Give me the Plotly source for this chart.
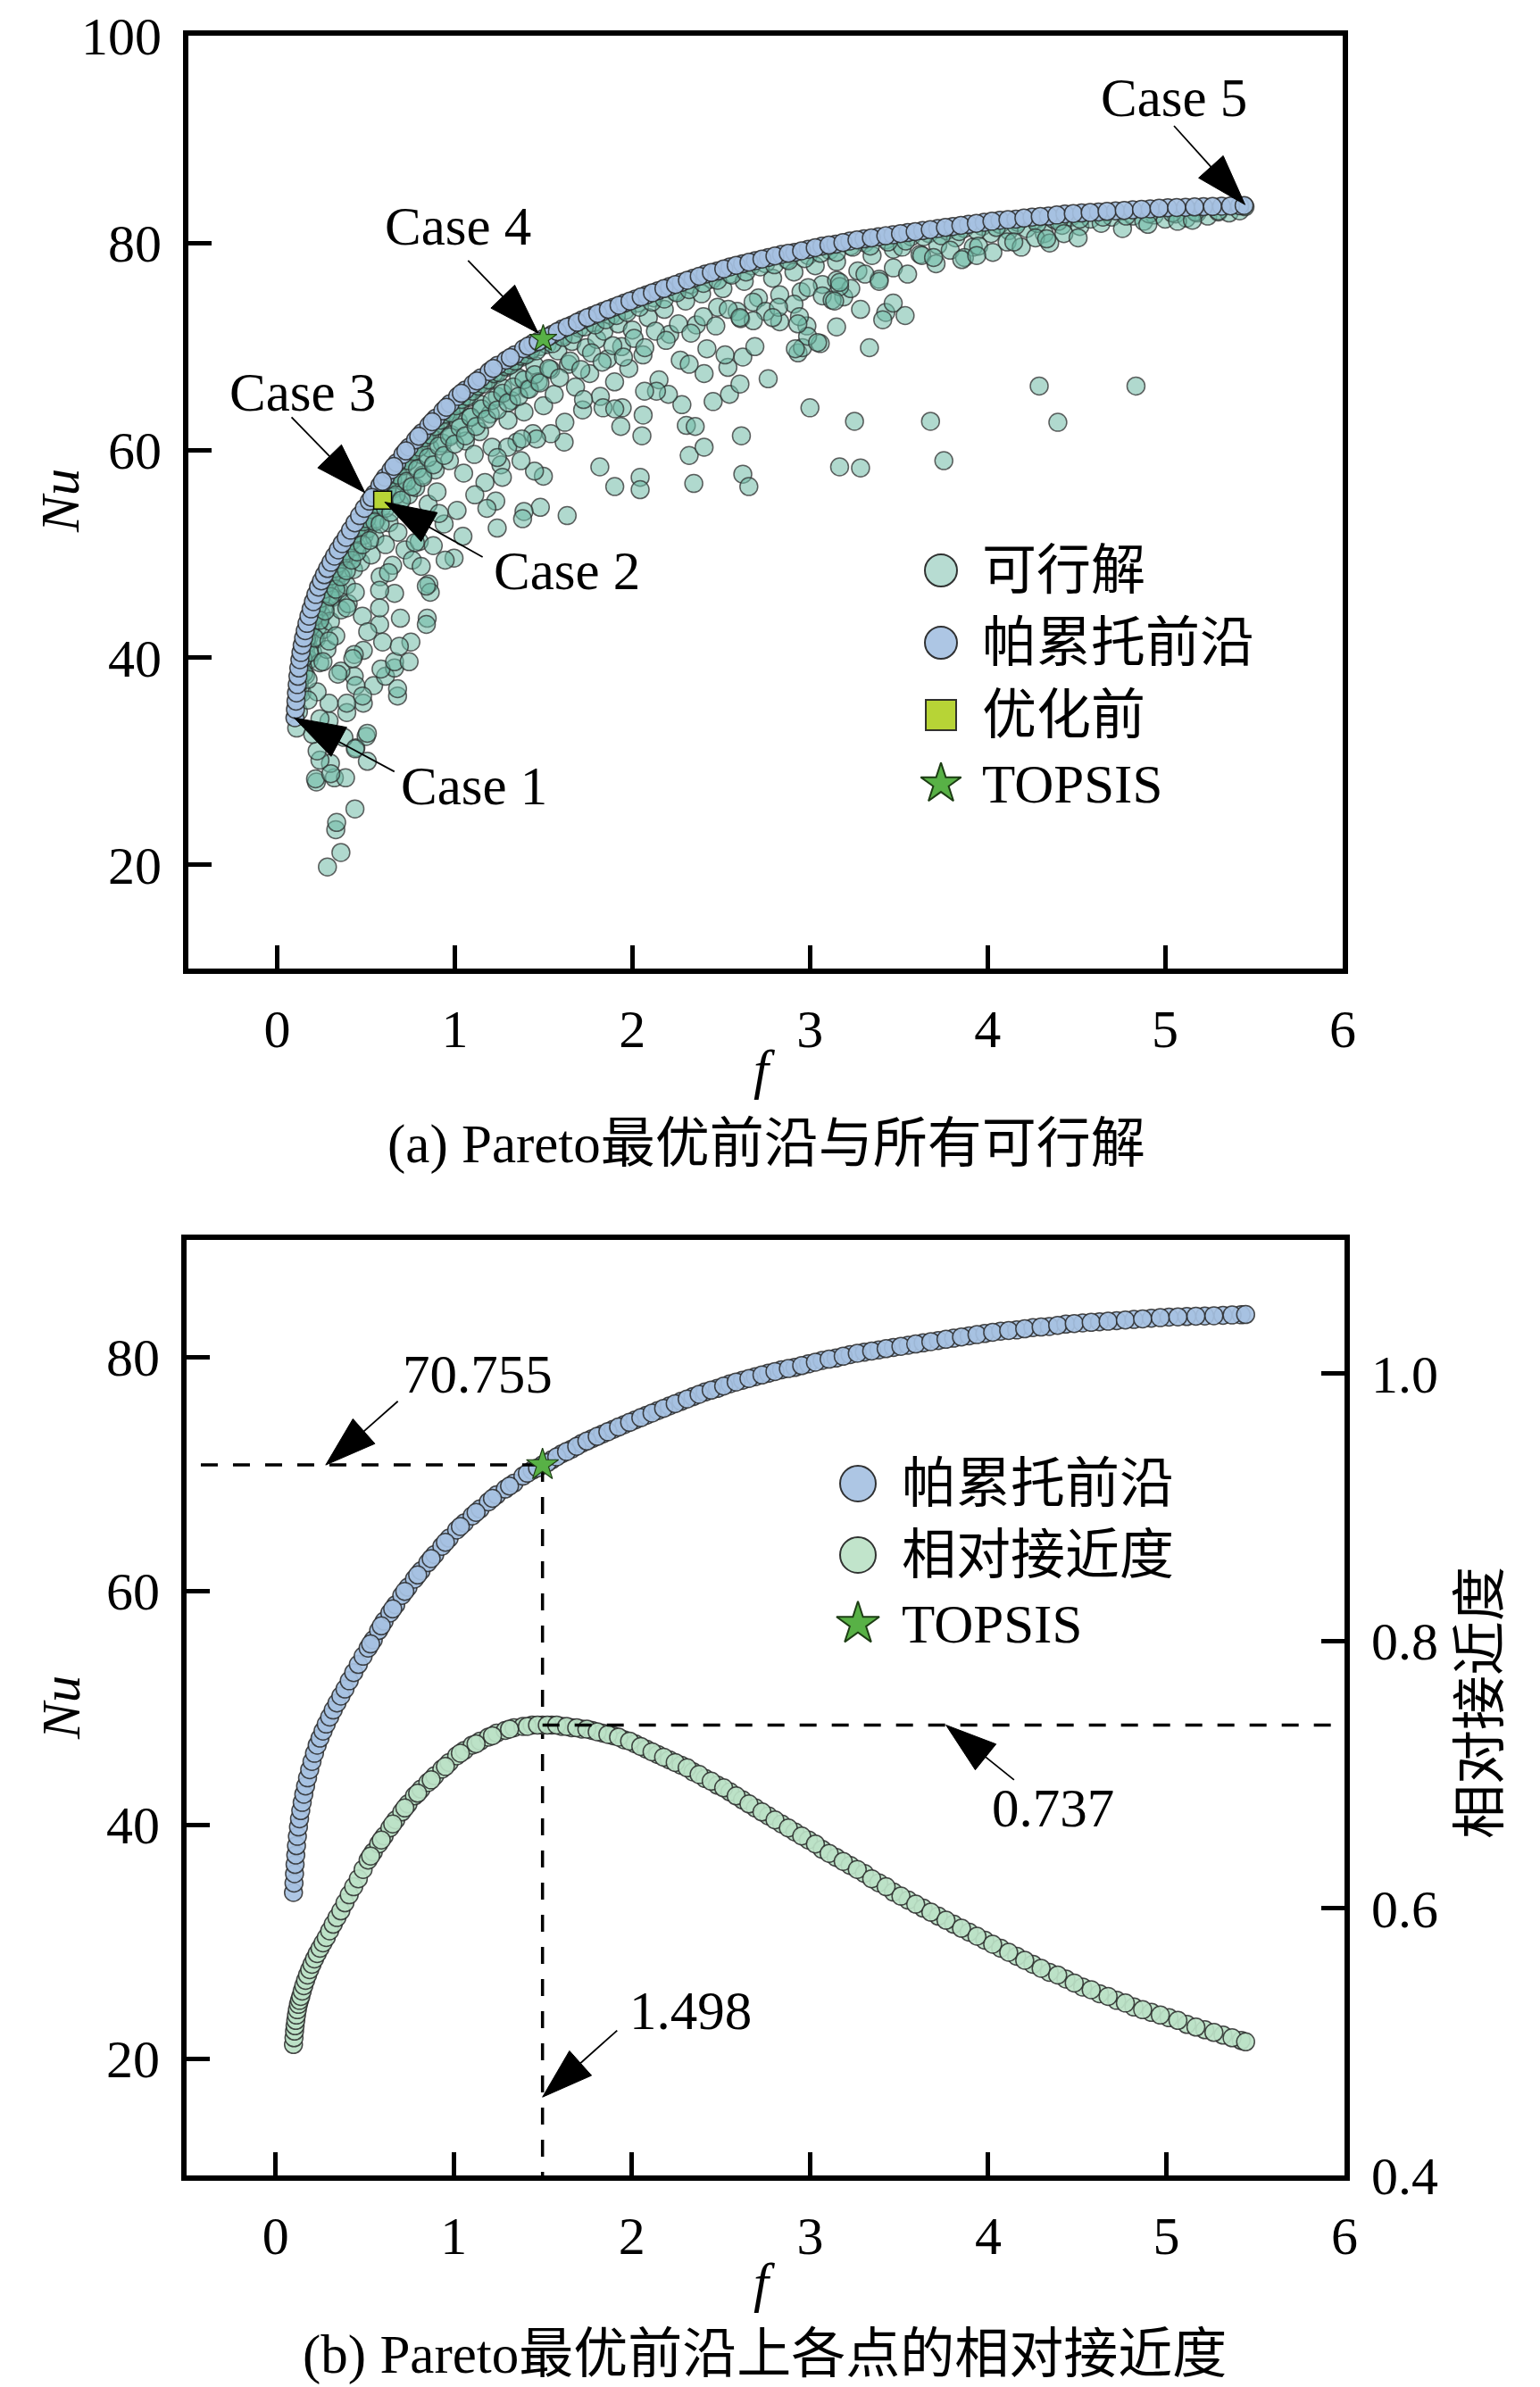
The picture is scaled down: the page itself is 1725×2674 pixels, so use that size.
import plotly.graph_objects as go

W, H = 1725, 2674
FONT = "Liberation Serif, Noto Sans CJK SC"

# ---------------- data ----------------
# Pareto front: f, Nu, and the relative closeness of each front point
front_f = [0.100, 0.103, 0.106, 0.109, 0.113, 0.117, 0.122, 0.128, 0.134, 0.141,
           0.149, 0.158, 0.168, 0.179, 0.191, 0.204, 0.218, 0.233, 0.249, 0.266,
           0.284, 0.303, 0.323, 0.344, 0.366, 0.389, 0.413, 0.438, 0.464, 0.491,
           0.519, 0.548, 0.578, 0.609, 0.641, 0.674, 0.708, 0.743, 0.779, 0.816,
           0.854, 0.893, 0.933, 0.974, 1.016, 1.059, 1.103, 1.148, 1.194, 1.241,
           1.289, 1.338, 1.388, 1.440, 1.498, 1.550, 1.605, 1.661, 1.718, 1.776,
           1.835, 1.895, 1.956, 2.018, 2.081, 2.145, 2.210, 2.276, 2.343, 2.411,
           2.480, 2.550, 2.621, 2.693, 2.766, 2.840, 2.915, 2.991, 3.068, 3.146,
           3.225, 3.305, 3.386, 3.468, 3.551, 3.635, 3.720, 3.806, 3.893, 3.981,
           4.070, 4.160, 4.251, 4.343, 4.436, 4.530, 4.625, 4.721, 4.818, 4.916,
           5.015, 5.115, 5.216, 5.318, 5.420,
           0.533, 0.593, 0.657, 0.725, 0.797, 0.873, 0.953, 1.037, 1.125, 1.217,
           1.313, 1.413, 1.470, 1.525, 1.578, 1.633, 1.690, 1.747, 1.805, 1.865,
           1.925, 1.987, 2.050, 2.113, 2.178, 2.243, 2.310, 2.377, 2.445, 2.515,
           2.585, 2.657, 2.730, 2.803, 2.878, 2.953, 3.030, 3.107, 3.186, 3.265,
           3.346, 3.427, 3.510, 3.593, 3.678, 3.763, 3.850, 3.937, 4.025, 4.115,
           4.205, 4.297, 4.390, 4.483, 4.578, 4.673, 4.770, 4.867, 4.966, 5.065,
           5.166, 5.267, 5.369, 5.445]
front_nu = [34.2, 35.0, 35.8, 36.6, 37.4, 38.2, 39.0, 39.8, 40.5, 41.2,
            41.9, 42.6, 43.3, 44.0, 44.7, 45.4, 46.1, 46.8, 47.4, 48.0,
            48.6, 49.2, 49.8, 50.4, 51.0, 51.6, 52.3, 53.0, 53.7, 54.4,
            55.1, 55.8, 56.6, 57.4, 58.1, 58.8, 59.6, 60.3, 61.0, 61.7,
            62.4, 63.1, 63.8, 64.5, 65.2, 65.8, 66.4, 67.0, 67.6, 68.2,
            68.7, 69.2, 69.8, 70.3, 70.755, 71.2, 71.7, 72.1, 72.6, 73.0,
            73.4, 73.8, 74.2, 74.6, 75.0, 75.4, 75.8, 76.2, 76.6, 77.0,
            77.3, 77.7, 78.0, 78.3, 78.6, 78.9, 79.1, 79.4, 79.7, 79.9,
            80.2, 80.4, 80.6, 80.8, 81.0, 81.2, 81.4, 81.6, 81.8, 82.0,
            82.2, 82.3, 82.5, 82.6, 82.8, 82.9, 83.0, 83.1, 83.2, 83.3,
            83.4, 83.45, 83.5, 83.55, 83.6,
            55.45, 57.0, 58.45, 59.95, 61.35, 62.75, 64.15, 65.5, 66.7, 67.9,
            68.95, 70.05, 70.5, 70.95, 71.45, 71.9, 72.35, 72.8, 73.2, 73.6,
            74.0, 74.4, 74.8, 75.2, 75.6, 76.0, 76.4, 76.8, 77.15, 77.5,
            77.85, 78.15, 78.45, 78.75, 79.0, 79.25, 79.55, 79.8, 80.05, 80.3,
            80.5, 80.7, 80.9, 81.1, 81.3, 81.5, 81.7, 81.9, 82.1, 82.25,
            82.4, 82.55, 82.7, 82.85, 82.95, 83.05, 83.15, 83.25, 83.35, 83.42,
            83.48, 83.52, 83.58, 83.62]
front_c = [0.498, 0.503, 0.508, 0.512, 0.516, 0.520, 0.524, 0.528, 0.531, 0.534,
           0.538, 0.542, 0.546, 0.550, 0.554, 0.558, 0.562, 0.566, 0.570, 0.574,
           0.578, 0.583, 0.588, 0.593, 0.598, 0.604, 0.610, 0.616, 0.622, 0.629,
           0.636, 0.642, 0.648, 0.654, 0.660, 0.666, 0.672, 0.678, 0.684, 0.689,
           0.694, 0.699, 0.704, 0.709, 0.714, 0.718, 0.722, 0.725, 0.728, 0.731,
           0.733, 0.735, 0.736, 0.737, 0.737, 0.737, 0.736, 0.735, 0.734, 0.733,
           0.731, 0.729, 0.726, 0.723, 0.719, 0.715, 0.711, 0.707, 0.702, 0.697,
           0.692, 0.687, 0.681, 0.675, 0.669, 0.663, 0.657, 0.651, 0.644, 0.638,
           0.632, 0.626, 0.619, 0.612, 0.606, 0.600, 0.594, 0.588, 0.582, 0.576,
           0.570, 0.564, 0.558, 0.552, 0.547, 0.541, 0.536, 0.531, 0.526, 0.522,
           0.518, 0.513, 0.509, 0.505, 0.501,
           0.639, 0.651, 0.663, 0.675, 0.686, 0.696, 0.706, 0.716, 0.723, 0.729,
           0.734, 0.736, 0.737, 0.737, 0.737, 0.736, 0.735, 0.734, 0.732, 0.730,
           0.728, 0.725, 0.721, 0.717, 0.713, 0.709, 0.705, 0.700, 0.695, 0.690,
           0.684, 0.678, 0.672, 0.666, 0.660, 0.654, 0.648, 0.641, 0.635, 0.629,
           0.622, 0.616, 0.609, 0.603, 0.597, 0.591, 0.585, 0.579, 0.573, 0.567,
           0.561, 0.555, 0.550, 0.544, 0.539, 0.534, 0.529, 0.524, 0.520, 0.516,
           0.511, 0.507, 0.503, 0.500]

# feasible solutions: dense band under the front
band_f = [0.11, 0.12, 0.12, 0.13, 0.14, 0.14, 0.15, 0.16, 0.16, 0.17, 0.18, 0.18, 0.19, 0.20, 0.20,
          0.21, 0.22, 0.22, 0.23, 0.24, 0.24, 0.25, 0.26, 0.26, 0.27, 0.28, 0.28, 0.29, 0.30, 0.30,
          0.31, 0.32, 0.33, 0.33, 0.34, 0.35, 0.36, 0.36, 0.37, 0.38, 0.39, 0.40, 0.40, 0.41, 0.42,
          0.43, 0.44, 0.44, 0.45, 0.46, 0.47, 0.48, 0.48, 0.49, 0.50,
          0.51, 0.52, 0.53, 0.54, 0.55, 0.56, 0.57, 0.58, 0.59, 0.60, 0.61, 0.62, 0.63, 0.64, 0.65,
          0.66, 0.67, 0.68, 0.69, 0.70, 0.71, 0.72, 0.73, 0.74, 0.75, 0.76, 0.77, 0.78, 0.79, 0.80,
          0.81, 0.82, 0.84, 0.85, 0.86, 0.88, 0.89, 0.90, 0.92, 0.93, 0.94, 0.96, 0.97, 0.98, 1.00,
          1.02, 1.03, 1.05, 1.06, 1.08, 1.09, 1.11, 1.12, 1.14, 1.15, 1.17, 1.18, 1.20, 1.21, 1.23,
          1.24, 1.26, 1.27, 1.29, 1.30, 1.32, 1.33, 1.35, 1.36, 1.38, 1.39, 1.41, 1.42, 1.44, 1.45,
          1.47, 1.48, 1.50,
          1.52, 1.54, 1.56, 1.58, 1.60, 1.62, 1.64, 1.66, 1.68, 1.70, 1.72, 1.74, 1.76, 1.78, 1.80,
          1.82, 1.84, 1.86, 1.88, 1.90, 1.92, 1.94, 1.96, 1.98, 2.00, 2.03, 2.06, 2.09, 2.12, 2.15,
          2.18, 2.21, 2.24, 2.27, 2.30, 2.33, 2.36, 2.39, 2.42, 2.45, 2.48,
          2.51, 2.55, 2.59, 2.63, 2.67, 2.71, 2.75, 2.79, 2.83, 2.87, 2.91, 2.95, 2.99, 3.03, 3.07,
          3.11, 3.15, 3.19, 3.23, 3.27, 3.31, 3.35, 3.39, 3.43, 3.47,
          3.52, 3.57, 3.62, 3.67, 3.72, 3.77, 3.82, 3.87, 3.92, 3.97, 4.02, 4.07, 4.12, 4.17, 4.22,
          4.27, 4.32, 4.37, 4.42, 4.47,
          4.52, 4.58, 4.64, 4.70, 4.76, 4.82, 4.88, 4.94, 5.00, 5.06, 5.12, 5.18, 5.24, 5.30, 5.36,
          5.42, 5.45]
band_nu = [33.2, 36.5, 34.8, 38.0, 39.2, 36.6, 40.1, 40.6, 38.3, 41.4, 42.0, 39.8, 42.6, 43.3, 40.5,
           43.6, 44.4, 41.8, 43.0, 45.3, 39.5, 44.1, 46.2, 42.7, 44.9, 47.1, 40.8, 46.0, 47.6, 43.5,
           45.8, 48.3, 47.2, 42.1, 49.0, 46.4, 49.6, 44.6, 48.2, 50.5, 47.0, 51.1, 45.2, 49.8, 51.5,
           48.5, 52.3, 46.3, 50.7, 52.6, 49.2, 53.4, 44.0, 51.8, 53.6,
           52.4, 54.1, 49.9, 55.0, 51.6, 53.4, 56.1, 47.8, 54.5, 56.7, 50.9, 55.8, 53.0, 57.5, 48.9,
           56.3, 58.2, 52.1, 54.9, 58.9, 57.0, 50.4, 59.3, 55.7, 60.1, 53.5, 58.5, 56.4, 60.8, 51.2,
           59.6, 57.6, 61.5, 54.8, 60.2, 62.2, 58.1, 56.0, 62.6, 60.7, 52.9, 63.4, 59.0, 61.5, 64.0,
           62.8, 64.5, 57.8, 60.9, 65.1, 63.2, 59.6, 66.0, 61.8, 64.4, 56.9, 66.7, 63.5, 60.3, 67.3,
           65.2, 58.6, 66.0, 68.0, 62.9, 64.8, 68.4, 60.8, 67.0, 69.0, 63.7, 65.9, 69.4, 61.6, 68.2,
           66.6, 70.0, 64.3,
           70.2, 67.8, 65.4, 69.6, 71.0, 62.7, 68.3, 70.5, 66.1, 71.8, 63.9, 69.9, 67.4, 72.3, 70.7,
           65.2, 71.5, 68.8, 73.0, 66.6, 72.2, 70.0, 73.5, 67.9, 71.6, 74.2, 69.2, 72.8, 74.7, 66.8,
           73.6, 71.2, 75.3, 68.7, 74.4, 76.0, 72.1, 75.1, 69.8, 76.5, 73.8,
           75.6, 77.0, 73.4, 76.3, 77.8, 74.7, 78.0, 76.6, 72.4, 78.4, 77.2, 75.3, 78.8, 77.8, 76.0,
           79.3, 78.2, 74.8, 79.7, 77.3, 80.0, 78.8, 76.5, 80.3, 79.4,
           79.6, 80.6, 78.9, 80.9, 79.8, 81.2, 80.5, 81.4, 79.6, 81.6, 80.9, 81.8, 81.2, 82.0, 81.4,
           82.2, 80.9, 82.3, 81.7, 82.5,
           81.6, 82.3, 81.9, 82.5, 81.4, 82.6, 82.1, 82.7, 82.3, 82.8, 82.4, 82.9, 82.6, 83.0, 82.9,
           83.1, 83.5]

# feasible solutions packed right against the front (f, Nu)
edge_pts = [
    (0.125, 37.6), (0.145, 39.9), (0.165, 41.8), (0.185, 42.9), (0.205, 43.9), (0.225, 44.9),
    (0.245, 45.7), (0.265, 46.6), (0.285, 47.2), (0.305, 47.9), (0.325, 48.6), (0.345, 49.1),
    (0.365, 49.8), (0.385, 50.3), (0.405, 51.0), (0.425, 51.3), (0.445, 52.0), (0.465, 52.5),
    (0.485, 53.1), (0.505, 53.4),
    (0.53, 54.3), (0.56, 54.7), (0.59, 55.9), (0.62, 56.3), (0.65, 57.2), (0.68, 57.6),
    (0.71, 58.5), (0.74, 59.0), (0.77, 59.9), (0.80, 60.3), (0.83, 61.2), (0.86, 61.5),
    (0.89, 62.3), (0.92, 62.9), (0.95, 63.5), (0.98, 63.6), (1.01, 64.3), (1.04, 64.9),
    (1.07, 65.2), (1.10, 65.7), (1.13, 66.2), (1.16, 66.4), (1.19, 66.8), (1.22, 67.4),
    (1.25, 67.5), (1.28, 68.1), (1.31, 68.2), (1.34, 68.6), (1.37, 69.1), (1.40, 69.2),
    (1.43, 69.7), (1.46, 69.6),
    (1.55, 70.3), (1.61, 70.9), (1.67, 71.2), (1.73, 71.9), (1.79, 72.1), (1.85, 72.6),
    (1.91, 73.0), (1.97, 73.3), (2.04, 73.8), (2.11, 74.3), (2.18, 74.6), (2.25, 75.2),
    (2.32, 75.5), (2.40, 76.1), (2.48, 76.4), (2.56, 76.9), (2.64, 77.2), (2.72, 77.7),
    (2.80, 77.9), (2.88, 78.3), (2.97, 78.5), (3.06, 79.0), (3.15, 79.1), (3.24, 79.6),
    (3.34, 79.7), (3.44, 80.1), (3.54, 80.2), (3.64, 80.6), (3.74, 80.7), (3.84, 81.1),
    (3.94, 81.2), (4.05, 81.5), (4.16, 81.7), (4.28, 81.9), (4.40, 82.1), (4.52, 82.3),
    (4.65, 82.5), (4.78, 82.6), (4.91, 82.8), (5.04, 82.9), (5.17, 83.0), (5.30, 83.1),
]

# feasible solutions a few units below the front (f, Nu)
inner_pts = [
    (0.15, 38.5), (0.18, 40.5), (0.21, 41.9), (0.24, 43.6), (0.27, 44.5), (0.30, 45.9),
    (0.33, 46.6), (0.36, 47.8), (0.39, 48.4), (0.42, 49.4), (0.45, 50.2), (0.48, 50.9),
    (0.52, 51.3), (0.55, 53.1), (0.58, 52.9), (0.61, 54.4), (0.64, 54.0), (0.67, 55.7),
    (0.70, 55.2), (0.73, 57.0), (0.76, 56.5), (0.79, 58.2), (0.82, 57.4), (0.85, 59.3),
    (0.88, 58.6), (0.91, 60.4), (0.94, 59.5), (0.97, 61.3), (1.00, 60.6), (1.03, 62.2),
    (1.06, 61.4), (1.09, 63.2), (1.12, 62.3), (1.15, 64.0), (1.18, 63.0), (1.21, 64.8),
    (1.24, 63.9), (1.27, 65.5), (1.30, 64.6), (1.33, 66.1), (1.36, 65.2), (1.39, 66.8),
    (1.42, 65.9), (1.45, 67.3), (1.48, 66.5),
    (1.53, 67.9), (1.59, 67.0), (1.65, 68.6), (1.71, 67.8), (1.77, 69.4), (1.83, 68.5),
    (1.89, 70.1), (1.95, 69.0), (2.01, 70.8), (2.07, 69.9), (2.13, 71.5), (2.19, 70.6),
    (2.26, 72.2), (2.33, 71.3), (2.40, 72.9), (2.47, 72.0), (2.54, 73.6), (2.61, 72.7),
    (2.68, 74.3), (2.75, 73.4), (2.83, 75.0), (2.91, 74.1), (2.99, 75.7), (3.07, 74.9),
    (3.15, 76.4), (3.23, 75.6), (3.31, 77.0), (3.39, 76.3), (3.47, 77.6), (3.55, 77.0),
    (3.63, 78.8), (3.71, 78.0), (3.79, 79.3), (3.87, 78.6), (3.95, 79.7), (4.03, 79.1),
    (4.11, 80.1), (4.19, 79.6), (4.27, 80.5), (4.35, 80.0), (4.43, 80.9), (4.51, 80.5),
]

# feasible solutions: scattered points further from the front (f, Nu)
scatter_pts = [
    (0.283, 19.8), (0.359, 21.2), (0.330, 23.4), (0.335, 24.1), (0.438, 25.4), (0.221, 28.0),
    (0.216, 28.3), (0.322, 28.4), (0.300, 29.8), (0.241, 30.1), (0.225, 31.0), (0.443, 31.3),
    (0.501, 32.4), (0.376, 32.3), (0.200, 32.6), (0.292, 33.9), (0.241, 34.1), (0.392, 34.7),
    (0.485, 35.6), (0.678, 36.3), (0.543, 37.3), (0.610, 38.2), (0.661, 39.0), (0.585, 38.9),
    (0.434, 38.2), (0.359, 38.7), (0.392, 35.6), (0.292, 35.6), (0.225, 36.7), (0.753, 41.5),
    (0.485, 40.7), (0.434, 40.3), (0.594, 41.5), (0.258, 39.6), (0.174, 37.9), (0.174, 35.9),
    (1.817, 58.4), (1.633, 53.7), (1.482, 54.5), (1.390, 54.1), (1.382, 53.4), (1.239, 52.5),
    (1.231, 55.1), (1.181, 54.4), (1.499, 57.5), (1.449, 58.0), (1.373, 59.0), (1.616, 60.8),
    (1.298, 60.3), (1.046, 51.7), (0.996, 49.6), (0.946, 49.4), (0.879, 50.8), (0.854, 47.1),
    (0.862, 46.3), (0.845, 43.8), (0.694, 43.8), (0.661, 46.2), (0.627, 48.2), (0.761, 49.4),
    (0.811, 48.8), (0.577, 43.2), (0.661, 39.6), (0.678, 37.0), (0.426, 39.9), (0.342, 38.4),
    (0.443, 37.3), (1.013, 54.2), (1.113, 55.7), (0.912, 53.9), (0.778, 51.1), (0.577, 46.5),
    (0.577, 44.8), (0.510, 42.5), (0.392, 44.8), (0.292, 41.6),
    (1.901, 56.5), (2.044, 57.4), (2.044, 56.2), (2.346, 56.8), (2.622, 57.7), (2.656, 56.5),
    (3.167, 58.4), (3.285, 58.3), (3.754, 59.0), (2.320, 59.5), (2.404, 60.3), (2.614, 61.4),
    (3.000, 64.1), (3.251, 62.8), (3.679, 62.8), (1.541, 61.6), (1.935, 62.3), (2.061, 63.4),
    (1.835, 64.1), (2.304, 62.4), (2.354, 62.3), (2.455, 64.7), (2.547, 65.4), (2.606, 66.4),
    (2.765, 66.9), (2.279, 64.4), (2.203, 65.4), (2.136, 65.7), (2.069, 65.7), (1.943, 64.1),
    (1.901, 64.0), (1.725, 64.9), (2.404, 67.4), (2.320, 68.3), (2.538, 68.0), (2.622, 69.0),
    (2.690, 70.0), (2.933, 69.4), (2.958, 69.9), (3.058, 70.3), (3.335, 69.9), (3.150, 71.9),
    (2.983, 72.0), (2.941, 72.9), (2.823, 73.8), (2.790, 72.8), (3.285, 73.6), (3.427, 73.3),
    (3.469, 74.2), (3.536, 73.0), (3.410, 72.6), (3.125, 74.5), (3.167, 75.8), (2.522, 69.2),
    (2.681, 72.5), (2.606, 72.8),
    (4.291, 66.2), (4.836, 66.2), (4.396, 62.7), (3.855, 78.4), (3.939, 78.8), (4.333, 80.4),
    (5.070, 82.1), (5.154, 82.2), (4.903, 81.8), (4.148, 80.1), (3.696, 78.6), (2.987, 71.0),
    (3.043, 70.4), (2.918, 69.8), (2.932, 72.2), (3.139, 74.4), (3.167, 76.2),
    (2.054, 61.4), (1.461, 61.1), (1.378, 61.1), (1.240, 59.3), (1.268, 57.4), (0.840, 46.9),
    (0.840, 43.2), (0.688, 41.1), (0.743, 39.6), (0.481, 36.3), (0.508, 32.7), (0.440, 31.2),
    (0.385, 28.4), (0.508, 30.0), (0.302, 28.8),
]

feas_pts = edge_pts + inner_pts + scatter_pts
feas_f = band_f + [p[0] for p in feas_pts]
feas_nu = band_nu + [p[1] for p in feas_pts]

# design before optimisation and the TOPSIS choice
base_f = [0.594]
base_nu = [55.2]
topsis_f = [1.498]
topsis_nu = [70.755]
topsis_c = [0.737]

f_ticks = [0, 1, 2, 3, 4, 5, 6]
nu_ticks_a = [20, 40, 60, 80, 100]
nu_ticks_b = [20, 40, 60, 80]
c_ticks = [0.4, 0.6, 0.8, 1.0]

# ---------------- styles ----------------
FEAS = "rgba(112,186,165,0.55)"
FEAS_LEG = "rgba(112,186,165,0.5)"
FRONT = "rgba(166,193,226,0.92)"
CLOSE = "rgba(188,226,199,0.92)"
EDGE = "rgba(40,40,40,0.85)"
BASE = "#b7d436"
STAR = "#58b146"


def pX(x):
    return x / W


def pY(y):
    return 1 - y / H


fig = go.Figure()


def dots(x, y, xa, ya, color, size=20, symbol="circle", edge=EDGE, ew=1.5):
    fig.add_trace(go.Scatter(
        x=x, y=y, xaxis=xa, yaxis=ya, mode="markers", showlegend=False,
        marker=dict(symbol=symbol, size=size, color=color, line=dict(color=edge, width=ew))))


def arrow(xs, ys, xa, ya):
    # thin shaft ending in a long black head at the second point
    fig.add_trace(go.Scatter(
        x=xs, y=ys, xaxis=xa, yaxis=ya, mode="lines+markers", showlegend=False,
        hoverinfo="skip", line=dict(color="black", width=1.8),
        marker=dict(symbol="arrow", size=[0, 60], angleref="previous", color="black",
                    opacity=1, line=dict(color="black", width=1))))


def dashed(xs, ys, xa, ya):
    fig.add_trace(go.Scatter(
        x=xs, y=ys, xaxis=xa, yaxis=ya, mode="lines", showlegend=False, hoverinfo="skip",
        line=dict(color="black", width=3.5, dash="19px,17px")))


# ---- (a) all feasible solutions and the Pareto front ----
dots(feas_f, feas_nu, "x", "y", FEAS, edge="rgba(45,45,45,0.75)")
dots(front_f, front_nu, "x", "y", FRONT)
dots(base_f, base_nu, "x", "y", BASE, size=20, symbol="square", edge="black")
dots(topsis_f, topsis_nu, "x", "y", STAR, size=23, symbol="star", edge="#1d3d14", ew=1.2)

cases_a = [
    ("Case 1", 1.11, 27.6, [0.66, 0.095], [29.0, 34.2]),
    ("Case 2", 1.63, 48.4, [1.157, 0.606], [49.7, 55.0]),
    ("Case 3", 0.142, 65.6, [0.081, 0.495], [63.2, 55.9]),
    ("Case 4", 1.02, 81.6, [1.075, 1.47], [78.3, 71.3]),
    ("Case 5", 5.05, 94.0, [5.05, 5.45], [91.3, 83.7]),
]
for _, _, _, ax_, ay_ in cases_a:
    arrow(ax_, ay_, "x", "y")

# ---- (b) closeness of each front point ----
dots(front_f, front_nu, "x2", "y2", FRONT)
dots(front_f, front_c, "x2", "y3", CLOSE)
dashed([-0.42, topsis_f[0]], [topsis_nu[0], topsis_nu[0]], "x2", "y2")
dashed([topsis_f[0], topsis_f[0]], [topsis_nu[0], 10], "x2", "y2")
dashed([topsis_f[0], 6], [topsis_c[0], topsis_c[0]], "x2", "y3")
dots(topsis_f, topsis_nu, "x2", "y2", STAR, size=27, symbol="star", edge="#1d3d14", ew=1.2)

arrow([0.686, 0.281], [76.2, topsis_nu[0]], "x2", "y2")
arrow([4.145, 3.763], [0.696, topsis_c[0]], "x2", "y3")
arrow([1.917, topsis_f[0]], [22.4, 16.7], "x2", "y2")

# ---- hand-placed legends on a full-page overlay axis (pixel units) ----
legend_a = [("可行解", "circle", FEAS_LEG, 36, 631),
            ("帕累托前沿", "circle", FRONT, 36, 712),
            ("优化前", "square", BASE, 34, 793),
            ("TOPSIS", "star", STAR, 34, 870)]
legend_b = [("帕累托前沿", "circle", FRONT, 40, 1654),
            ("相对接近度", "circle", CLOSE, 40, 1734),
            ("TOPSIS", "star", STAR, 36, 1811)]

annotations = []
for items, mx, tx in [(legend_a, 1046, 1090), (legend_b, 953, 1000)]:
    for label, sym, col, sz, yy in items:
        dots([mx], [yy], "x3", "y4", col, size=sz, symbol=sym,
             edge="#1d3d14" if sym == "star" else "rgba(30,30,30,0.9)", ew=2)
        annotations.append(dict(xref="paper", yref="paper", x=pX(tx), y=pY(yy), text=label,
                                showarrow=False, xanchor="left", yanchor="middle",
                                font=dict(family=FONT, size=61, color="black")))

for label, tx, ty, _, _ in cases_a:
    annotations.append(dict(xref="x", yref="y", x=tx, y=ty, text=label, showarrow=False,
                            font=dict(family=FONT, size=61, color="black")))

annotations += [
    dict(xref="x2", yref="y2", x=1.134, y=78.5, text=f"{topsis_nu[0]:.3f}", showarrow=False,
         font=dict(family=FONT, size=61, color="black")),
    dict(xref="x2", yref="y3", x=4.363, y=0.675, text=f"{topsis_c[0]:.3f}", showarrow=False,
         font=dict(family=FONT, size=61, color="black")),
    dict(xref="x2", yref="y2", x=2.33, y=24.1, text=f"{topsis_f[0]:.3f}", showarrow=False,
         font=dict(family=FONT, size=61, color="black")),
]

# axis titles and captions
titles = [
    ("<i>Nu</i>", 59, 553, -90),
    ("<i>f</i>", 848, 1190, 0),
    ("(a) Pareto最优前沿与所有可行解", 850, 1274, 0),
    ("<i>Nu</i>", 60, 1905, -90),
    ("<i>f</i>", 848, 2549, 0),
    ("相对接近度", 1650, 1900, -90),
    ("(b) Pareto最优前沿上各点的相对接近度", 848, 2630, 0),
]
for text, xx, yy, ang in titles:
    annotations.append(dict(xref="paper", yref="paper", x=pX(xx), y=pY(yy), text=text,
                            textangle=ang, showarrow=False, xanchor="center", yanchor="middle",
                            font=dict(family=FONT, size=61, color="black")))

tick_font = dict(family=FONT, size=60, color="black")
base_axis = dict(showline=True, linewidth=6, linecolor="black", ticks="inside", ticklen=26,
                 tickwidth=5, tickcolor="black", showgrid=False, zeroline=False,
                 tickfont=tick_font, automargin=False)

fig.update_layout(
    template="none",
    width=W, height=H, margin=dict(l=0, r=0, t=0, b=0, pad=0), autosize=False,
    paper_bgcolor="white", plot_bgcolor="rgba(0,0,0,0)", showlegend=False,
    xaxis=dict(base_axis, domain=[pX(203), pX(1496)], range=[-0.5, 6], tickvals=f_ticks,
               mirror=True, anchor="y", ticklabelstandoff=10),
    yaxis=dict(base_axis, domain=[pY(1077), pY(32)], range=[10, 100], tickvals=nu_ticks_a,
               mirror=True, anchor="x", ticklabelstandoff=12),
    xaxis2=dict(base_axis, domain=[pX(201), pX(1498)], range=[-0.5, 6], tickvals=f_ticks,
                mirror=True, anchor="y2", ticklabelstandoff=10),
    yaxis2=dict(base_axis, domain=[pY(2429), pY(1381)], range=[10, 90], tickvals=nu_ticks_b,
                mirror=True, anchor="x2", ticklabelstandoff=12),
    yaxis3=dict(base_axis, overlaying="y2", side="right", anchor="x2", range=[0.4, 1.1],
                tickvals=c_ticks, tickformat=".1f", ticklabelstandoff=12),
    xaxis3=dict(domain=[0, 1], range=[0, W], visible=False, fixedrange=True, automargin=False),
    yaxis4=dict(domain=[0, 1], range=[H, 0], visible=False, fixedrange=True, anchor="x3",
                automargin=False),
    annotations=annotations,
)

fig.write_html("out.html")
